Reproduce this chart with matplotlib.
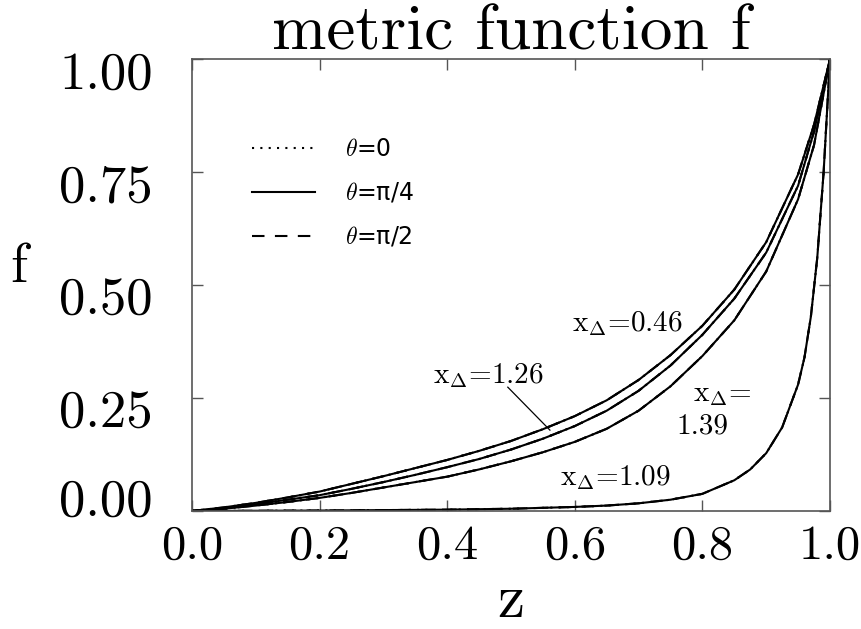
import matplotlib
matplotlib.use("Agg")
import matplotlib.pyplot as plt
import matplotlib.transforms as mtransforms

plt.rcParams['mathtext.fontset'] = 'cm'
plt.rcParams['axes.formatter.use_mathtext'] = True

# curve x_Delta = 0.46
z_046 = [0, 0.05, 0.1, 0.15, 0.2, 0.25, 0.3, 0.35, 0.4, 0.45, 0.5, 0.55, 0.6, 0.65,
         0.7, 0.75, 0.8, 0.85, 0.9, 0.95, 0.975, 1.0]
f_046 = [0, 0.008, 0.018, 0.030, 0.043, 0.060, 0.077, 0.095, 0.113, 0.133, 0.155, 0.181,
         0.210, 0.245, 0.290, 0.345, 0.410, 0.490, 0.595, 0.745, 0.855, 1.0]
# curve x_Delta = 1.26
z_126 = [0, 0.05, 0.1, 0.15, 0.2, 0.25, 0.3, 0.35, 0.4, 0.45, 0.5, 0.55, 0.6, 0.65,
         0.7, 0.75, 0.8, 0.85, 0.9, 0.95, 0.975, 1.0]
f_126 = [0, 0.006, 0.015, 0.025, 0.035, 0.049, 0.064, 0.080, 0.097, 0.115, 0.136, 0.160,
         0.188, 0.222, 0.266, 0.322, 0.390, 0.470, 0.572, 0.720, 0.840, 1.0]
# curve x_Delta = 1.39
z_139 = [0, 0.05, 0.1, 0.15, 0.2, 0.25, 0.3, 0.35, 0.4, 0.45, 0.5, 0.55, 0.6, 0.65,
         0.7, 0.75, 0.8, 0.85, 0.9, 0.95, 0.975, 1.0]
f_139 = [0, 0.005, 0.012, 0.020, 0.029, 0.040, 0.052, 0.064, 0.076, 0.092, 0.110, 0.130,
         0.153, 0.182, 0.222, 0.276, 0.343, 0.422, 0.530, 0.690, 0.810, 1.0]
# curve x_Delta = 1.09
z_109 = [0, 0.1, 0.2, 0.3, 0.4, 0.5, 0.6, 0.65, 0.7, 0.75, 0.8, 0.85, 0.875, 0.9,
         0.925, 0.95, 0.96, 0.97, 0.98, 0.99, 1.0]
f_109 = [0, 0.0005, 0.001, 0.002, 0.003, 0.005, 0.009, 0.012, 0.017, 0.025, 0.038, 0.068,
         0.092, 0.128, 0.185, 0.280, 0.340, 0.430, 0.560, 0.750, 1.0]

curves = [(z_046, f_046), (z_126, f_126), (z_139, f_139), (z_109, f_109)]

x_ticks = [0.0, 0.2, 0.4, 0.6, 0.8, 1.0]
x_ticklabels = ["0.0", "0.2", "0.4", "0.6", "0.8", "1.0"]
y_ticks = [0.0, 0.25, 0.5, 0.75, 1.0]
y_ticklabels = ["0.00", "0.25", "0.50", "0.75", "1.00"]

legend_labels = [r"$\theta$=0", r"$\theta$=π/4", r"$\theta$=π/2"]

serif = 'cmr10'

fig = plt.figure(figsize=(8.61, 6.29), dpi=100)
ax = fig.add_axes([0.223, 0.1876, 0.741, 0.7184])

lw = 1.5
for i, (z, f) in enumerate(curves):
    l0, = ax.plot(z, f, color='black', lw=lw, ls=(0, (1, 3)))
    l1, = ax.plot(z, f, color='black', lw=lw, ls='-')
    l2, = ax.plot(z, f, color='black', lw=lw, ls=(0, (6, 5)))
    if i == 0:
        handles = [l0, l1, l2]

ax.set_xlim(0, 1)
ax.set_ylim(0, 1)
ax.set_xticks(x_ticks)
ax.set_xticklabels(x_ticklabels, fontfamily=serif, fontsize=35)
ax.set_yticks(y_ticks)
ax.set_yticklabels(y_ticklabels, fontfamily=serif, fontsize=38)
ax.tick_params(axis='both', direction='in', length=8, width=1, color='#555555',
               top=True, right=True)
ax.tick_params(axis='x', pad=10)
ax.tick_params(axis='y', pad=28)
for sp in ax.spines.values():
    sp.set_color('#555555')
    sp.set_linewidth(1.2)

# shift y tick labels slightly as in the reference
for lab in ax.get_yticklabels():
    txt = lab.get_text()
    dy = 10 if txt == "0.00" else -8
    lab.set_transform(lab.get_transform() +
                      mtransforms.ScaledTranslation(0, dy / 72, fig.dpi_scale_trans))

ax.set_title("metric function f", fontfamily=serif, fontsize=47, pad=7)
fig.text(0.5935, (629 - 617) / 629, "z", fontfamily=serif, fontsize=44,
         ha='center', va='baseline')
ax.set_ylabel("f", fontfamily=serif, fontsize=40, rotation=0, va='center')
ax.yaxis.set_label_coords(-0.272, 0.537)

leg = ax.legend(handles, legend_labels, loc='upper left', bbox_to_anchor=(0.094, 0.828),
                frameon=False, handlelength=2.67, handletextpad=1.27,
                labelspacing=0.85, borderaxespad=0, borderpad=0,
                prop={'family': 'DejaVu Sans', 'size': 17})

tfs = 21
ax.text(0.595, 0.415, r"x$_{\Delta}$=0.46", fontfamily=serif, fontsize=tfs, ha='left', va='center')
ax.text(0.378, 0.30, r"x$_{\Delta}$=1.26", fontfamily=serif, fontsize=tfs, ha='left', va='center')
ax.text(0.785, 0.257, r"x$_{\Delta}$=", fontfamily=serif, fontsize=tfs, ha='left', va='center')
ax.text(0.760, 0.188, "1.39", fontfamily=serif, fontsize=tfs, ha='left', va='center')
ax.text(0.577, 0.073, r"x$_{\Delta}$=1.09", fontfamily=serif, fontsize=tfs, ha='left', va='center')
ax.plot([0.495, 0.561], [0.274, 0.179], color='black', lw=0.9)

fig.savefig("out.png", dpi=100)
